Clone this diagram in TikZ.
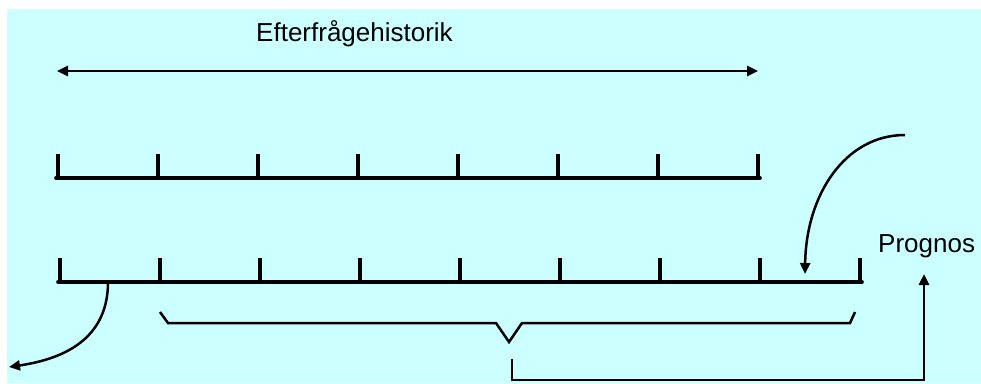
\documentclass[tikz,border=0pt]{standalone}
\usepackage{fontspec}
\setmainfont{Liberation Sans}
\usetikzlibrary{arrows.meta}
\definecolor{sky}{HTML}{CCFFFF}
\tikzset{
  axisline/.style={line width=3.6pt, line cap=round},
  tickmark/.style={line width=3.2pt},
  thinline/.style={line width=2.5pt, line join=miter},
  tip/.style={-{Triangle[length=11pt,width=10pt]}},
  label/.style={font=\fontsize{26}{30}\selectfont, inner sep=0pt, anchor=base west}
}
\begin{document}
\begin{tikzpicture}[x=1pt, y=-1pt]
  \useasboundingbox (0,0) rectangle (981,383);
  \fill[sky] (7,9) rectangle (981,383);

  % heading and the span it covers
  \node[label] (hist) at (256,41) {Efterfrågehistorik};
  \coordinate (spanL) at (57,71);
  \coordinate (spanR) at (758,71);
  \draw[thinline, {Triangle[length=11pt,width=10pt]}-{Triangle[length=11pt,width=10pt]}] (spanL) -- (spanR);

  % upper time axis: eight periods of history
  \coordinate (topL) at (56,178);
  \coordinate (topR) at (760,178);
  \draw[axisline] (topL) -- (topR);
  \foreach \i in {0,...,7} {
    \draw[tickmark] (58+100*\i,178) -- (58+100*\i,154);
  }

  % lower time axis, shifted one period ahead
  \coordinate (botL) at (58,282);
  \coordinate (botR) at (862,282);
  \draw[axisline] (botL) -- (botR);
  \foreach \i in {0,...,8} {
    \draw[tickmark] (60+100*\i,282) -- (60+100*\i,258);
  }

  % oldest period drops out
  \coordinate (dropA) at (108,282);
  \coordinate (dropB) at (9,367);
  \draw[thinline, tip] (dropA) .. controls (108,335) and (70,358) .. (dropB);

  % new period comes in
  \coordinate (inA) at (905,135);
  \coordinate (inB) at (805,274);
  \draw[thinline, tip] (inA) .. controls (845,135) and (806,195) .. (inB);

  % brace over the latest eight periods
  \coordinate (brL) at (160,312);
  \coordinate (brM) at (509,342);
  \coordinate (brR) at (855,312);
  \draw[thinline] (brL) -- (168,323) -- (496,323) -- (brM) -- (522,323) -- (850,323) -- (brR);

  % forecast label and the path leading to it
  \node[label] (prog) at (878,252) {Prognos};
  \coordinate (legA) at (512,359);
  \coordinate (legB) at (924,274);
  \draw[line width=2.8pt, tip] (legA) -- (512,380) -- (924,380) -- (legB);
\end{tikzpicture}
\end{document}
